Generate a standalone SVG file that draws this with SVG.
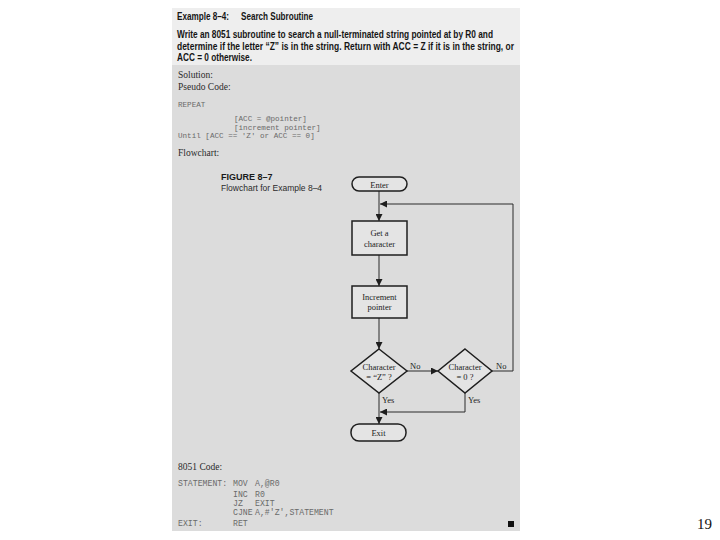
<svg xmlns="http://www.w3.org/2000/svg" width="720" height="540" viewBox="0 0 720 540">
<style>
.hd{font-family:"Liberation Sans",Arial,sans-serif;font-weight:bold;font-size:10.5px;fill:#151515}
.sf{font-family:"Liberation Serif","Times New Roman",serif;fill:#2a2a2a}
.mono{font-family:"Liberation Mono","Courier New",monospace;font-size:7.6px;fill:#6a6a6a}
.code{font-family:"Liberation Mono","Courier New",monospace;font-size:8.2px;fill:#6a6a6a}
.fc{font-family:"Liberation Serif","Times New Roman",serif;font-size:8.5px;fill:#222;text-anchor:middle}
.lb{font-family:"Liberation Serif","Times New Roman",serif;font-size:8.5px;fill:#222}
.box{fill:#e4e4e4;stroke:#1e1e1e;stroke-width:1.5}
.ln{fill:none;stroke:#2a2a2a;stroke-width:1}
</style>
<defs>
<marker id="ah" viewBox="0 0 10 10" refX="10" refY="5" markerWidth="7" markerHeight="7" orient="auto" markerUnits="userSpaceOnUse">
<path d="M0,0 L10,5 L0,10 z" fill="#1e1e1e"/>
</marker>
</defs>
<rect width="720" height="540" fill="#ffffff"/>
<rect x="172" y="8" width="348" height="58" fill="#eeeeee"/>
<rect x="172" y="65" width="348" height="466" fill="#dcdcdc"/>

<text class="hd" x="177" y="20" textLength="52" lengthAdjust="spacingAndGlyphs">Example 8–4:</text>
<text class="hd" x="241" y="20" textLength="72" lengthAdjust="spacingAndGlyphs">Search Subroutine</text>
<text class="hd" x="177" y="38" textLength="316" lengthAdjust="spacingAndGlyphs">Write an 8051 subroutine to search a null-terminated string pointed at by R0 and</text>
<text class="hd" x="177" y="50" textLength="337" lengthAdjust="spacingAndGlyphs">determine if the letter “Z” is in the string. Return with ACC = Z if it is in the string, or</text>
<text class="hd" x="177" y="61" textLength="75" lengthAdjust="spacingAndGlyphs">ACC = 0 otherwise.</text>

<text class="sf" x="178" y="78" font-size="9.5">Solution:</text>
<text class="sf" x="178" y="90" font-size="9.5">Pseudo Code:</text>
<text class="mono" x="178" y="107">REPEAT</text>
<text class="mono" x="234" y="121">[ACC = @pointer]</text>
<text class="mono" x="234" y="130">[increment pointer]</text>
<text class="mono" x="178" y="138">Until [ACC == 'Z' or ACC == 0]</text>
<text class="sf" x="178" y="156" font-size="9.5">Flowchart:</text>

<text x="221" y="180" font-family="Liberation Sans,Arial,sans-serif" font-weight="bold" font-size="9" fill="#1a1a1a">FIGURE 8–7</text>
<text x="221" y="191" font-family="Liberation Sans,Arial,sans-serif" font-size="8.5" fill="#2a2a2a">Flowchart for Example 8–4</text>

<g id="connectors">
<line class="ln" x1="379" y1="191" x2="379" y2="221" marker-end="url(#ah)"/>
<line class="ln" x1="379" y1="255" x2="379" y2="286" marker-end="url(#ah)"/>
<line class="ln" x1="379" y1="318" x2="379" y2="349" marker-end="url(#ah)"/>
<line class="ln" x1="407" y1="371" x2="438" y2="371" marker-end="url(#ah)"/>
<polyline class="ln" points="492,371 513,371 513,204 380,204" marker-end="url(#ah)"/>
<line class="ln" x1="379" y1="393" x2="379" y2="424" marker-end="url(#ah)"/>
<polyline class="ln" points="465,393 465,412 380,412" marker-end="url(#ah)"/>
<text class="lb" x="410" y="369">No</text>
<text class="lb" x="496" y="369">No</text>
<text class="lb" x="382" y="403">Yes</text>
<text class="lb" x="468" y="403">Yes</text>
</g>

<g id="enter">
<rect class="box" x="352" y="177" width="55" height="14" rx="7"/>
<text class="fc" x="379.5" y="187.5">Enter</text>
</g>
<g id="get-char">
<rect class="box" x="352" y="221" width="55" height="34"/>
<text class="fc" x="379.5" y="236">Get a</text>
<text class="fc" x="379.5" y="247">character</text>
</g>
<g id="increment">
<rect class="box" x="352" y="286" width="55" height="32"/>
<text class="fc" x="379.5" y="300">Increment</text>
<text class="fc" x="379.5" y="310">pointer</text>
</g>
<g id="is-z">
<polygon class="box" points="379,349 407,371 379,393 351,371"/>
<text class="fc" x="379" y="370">Character</text>
<text class="fc" x="379" y="380">= “Z” ?</text>
</g>
<g id="is-zero">
<polygon class="box" points="465,349 492,371 465,393 438,371"/>
<text class="fc" x="465" y="370">Character</text>
<text class="fc" x="465" y="380">= 0 ?</text>
</g>
<g id="exit">
<rect class="box" x="351" y="424" width="55" height="17" rx="8"/>
<text class="fc" x="378.5" y="435.5">Exit</text>
</g>

<text class="sf" x="178" y="470" font-size="9.5">8051 Code:</text>
<text class="code" x="178" y="486">STATEMENT:</text>
<text class="code" x="233" y="486">MOV</text>
<text class="code" x="255" y="486">A,@R0</text>
<text class="code" x="233" y="497">INC</text>
<text class="code" x="255" y="497">R0</text>
<text class="code" x="233" y="506">JZ</text>
<text class="code" x="255" y="506">EXIT</text>
<text class="code" x="233" y="515">CJNE</text>
<text class="code" x="255" y="515">A,#'Z',STATEMENT</text>
<text class="code" x="178" y="526">EXIT:</text>
<text class="code" x="233" y="526">RET</text>
<rect x="508" y="521" width="6" height="6" fill="#111"/>

<text x="697" y="529" font-family="Liberation Serif,Times New Roman,serif" font-size="15" fill="#111">19</text>
</svg>
